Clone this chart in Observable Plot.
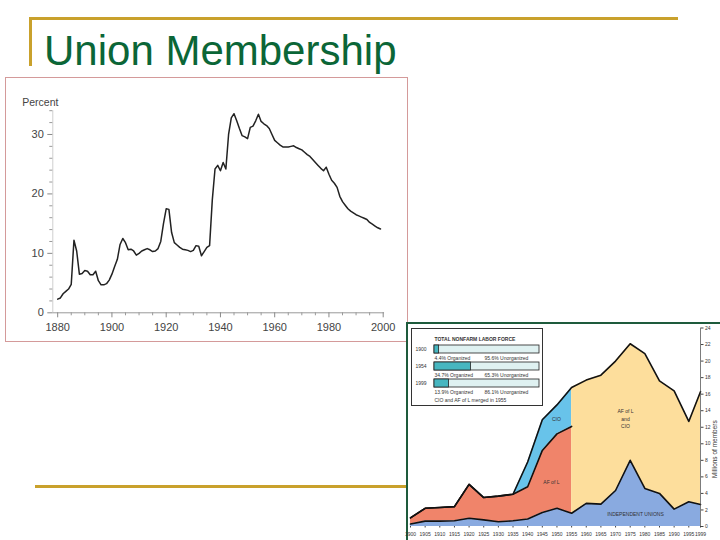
<!DOCTYPE html>
<html><head><meta charset="utf-8">
<script src="https://cdn.jsdelivr.net/npm/d3@7"></script>
<script src="https://cdn.jsdelivr.net/npm/@observablehq/plot@0.6"></script>
<style>
html,body{margin:0;padding:0;background:#fff;}
body{width:720px;height:540px;position:relative;overflow:hidden;font-family:"Liberation Sans",Arial,sans-serif;}
.abs{position:absolute;}
.abs svg{display:block;overflow:visible;}
</style></head><body>
<div class="abs" style="left:29px;top:17px;width:649px;height:3px;background:#c9a12c"></div>
<div class="abs" style="left:29px;top:17px;width:3px;height:49px;background:#c9a12c"></div>
<div class="abs" style="left:35px;top:485px;width:380px;height:3px;background:#c9a12c"></div>
<div class="abs" style="left:44px;top:30px;font-size:42px;line-height:42px;color:#0b6637;white-space:nowrap">Union Membership</div>
<div class="abs" id="c1" style="left:5px;top:77px;width:401px;height:263px;border:1px solid #d49a9a;background:#fff"></div>
<div class="abs" id="c2" style="left:406px;top:322px;width:312px;height:216px;border-top:2px solid #1e5b3c;border-left:2px solid #1e5b3c;background:#fff"></div>
<div class="abs" id="c3" style="left:411px;top:328px;width:130px;height:76px;border:1px solid #333;background:#fff"></div>
<script>
// ---------- Chart 1: union membership, percent of labor force ----------
const pctYears = [1880,1881,1882,1883,1884,1885,1886,1887,1888,1889,
1890,1891,1892,1893,1894,1895,1896,1897,1898,1899,
1900,1901,1902,1903,1904,1905,1906,1907,1908,1909,
1910,1911,1912,1913,1914,1915,1916,1917,1918,1919,
1920,1921,1922,1923,1924,1925,1926,1927,1928,1929,
1930,1931,1932,1933,1934,1935,1936,1937,1938,1939,
1940,1941,1942,1943,1944,1945,1946,1947,1948,1949,
1950,1951,1952,1953,1954,1955,1956,1957,1958,1959,
1960,1961,1962,1963,1964,1965,1966,1967,1968,1969,
1970,1971,1972,1973,1974,1975,1976,1977,1978,1979,
1980,1981,1982,1983,1984,1985,1986,1987,1988,1989,
1990,1991,1992,1993,1994,1995,1996,1997,1998,1999];
const pctValues = [2.3,2.5,3.2,3.6,4.0,4.8,12.2,10.4,6.5,6.6,
7.1,7.0,6.4,6.4,7.0,5.4,4.7,4.7,4.9,5.5,
6.5,7.8,9.0,11.5,12.5,11.8,10.6,10.7,10.4,9.7,
10.0,10.4,10.6,10.8,10.6,10.3,10.4,10.8,12.0,15.0,
17.5,17.4,13.5,11.8,11.4,11.0,10.7,10.6,10.5,10.3,
10.5,11.3,11.2,9.6,10.3,11.0,11.3,19.0,24.2,24.8,
23.9,25.3,24.2,30.0,32.8,33.5,32.3,31.0,29.8,29.6,
29.3,31.2,31.4,32.3,33.4,32.2,31.8,31.5,31.0,30.0,
29.0,28.6,28.2,27.9,27.9,27.9,28.0,28.1,27.8,27.6,
27.4,27.0,26.6,26.3,25.8,25.3,24.8,24.3,23.9,24.5,
23.3,22.3,21.8,21.1,19.6,18.7,18.1,17.5,17.1,16.8,
16.5,16.3,16.1,15.9,15.7,15.2,14.9,14.6,14.3,14.1];
const pctTicks = [0,10,20,30];
const pctMinorTicks = [2,4,6,8,12,14,16,18,22,24,26,28,32,34];
const yearTicks = [1880,1900,1920,1940,1960,1980,2000];
const yearMinorTicks = [1885,1890,1895,1905,1910,1915,1925,1930,1935,1945,1950,1955,1965,1970,1975,1985,1990,1995];

// ---------- Chart 2: millions of members by union type ----------
const unionYearsA = [1900,1905,1910,1915,1920,1925,1930,1935,1940,1945,1950,1955];
const independentA = [0.3,0.65,0.65,0.7,1.0,0.8,0.57,0.7,0.9,1.7,2.2,1.6];
const aflA = [0.75,1.55,1.65,1.7,4.1,2.7,3.1,3.2,3.9,7.5,9.0,10.5];
const cioA = [0,0,0,0,0,0,0,0,3.0,3.7,3.5,4.7];
const unionYearsB = [1955,1960,1965,1970,1975,1980,1985,1990,1995,1999];
const independentB = [1.6,2.8,2.7,4.35,8.0,4.6,4.0,2.1,3.0,2.65];
const aflcioB = [15.2,14.9,15.6,15.65,14.1,16.3,13.6,14.3,9.7,13.65];
const memberTicks = [0,2,4,6,8,10,12,14,16,18,20,22,24];
const unionTickYears = [1900,1905,1910,1915,1920,1925,1930,1935,1940,1945,1950,1955,1960,1965,1970,1975,1980,1985,1990,1995,1999];

// ---------- Inset: share of nonfarm labor force organized ----------
const insetYears = ["1900","1954","1999"];
const organizedPct = [4.4,34.7,13.9];

const font = "Liberation Sans, Arial, sans-serif";

const rows1 = pctYears.map((year, i) => ({year, pct: pctValues[i]}));
const c1 = Plot.plot({
  width: 401, height: 263,
  marginLeft: 46.3, marginRight: 24.3, marginTop: 32.2, marginBottom: 28.7,
  style: {background: "transparent", fontFamily: font, overflow: "visible"},
  x: {domain: [1878.2, 2000], label: null},
  y: {domain: [0, 34], label: null},
  marks: [
    Plot.ruleX([1878.2], {y1: 0, y2: 34, stroke: "#cfcfcf", strokeWidth: 1}),
    Plot.ruleY([0], {x1: 1878.2, x2: 2000.5, stroke: "#999"}),
    Plot.axisY({ticks: pctMinorTicks, tickSize: 3, text: null, stroke: "#999", label: null}),
    Plot.axisY({ticks: pctTicks, tickSize: 5, tickPadding: 4, fontSize: 11, fill: "#444", stroke: "#888", label: null, tickFormat: d => String(d)}),
    Plot.axisX({ticks: yearMinorTicks, tickSize: 3, text: null, stroke: "#999", label: null}),
    Plot.axisX({ticks: yearTicks, tickSize: 5, tickPadding: 5, fontSize: 11, fill: "#444", stroke: "#888", label: null, tickFormat: d => String(d)}),
    Plot.line(rows1, {x: "year", y: "pct", stroke: "#222", strokeWidth: 1.5}),
    Plot.text(["Percent"], {frameAnchor: "top-left", dx: -30.6, dy: -12.5, textAnchor: "start", fontSize: 10.5, fill: "#444"})
  ]
});
document.getElementById("c1").appendChild(c1);

const rowsA = unionYearsA.map((year, i) => ({
  year, ind: independentA[i], aflTop: independentA[i] + aflA[i], total: independentA[i] + aflA[i] + cioA[i]
}));
const rowsB = unionYearsB.map((year, i) => ({
  year, ind: independentB[i], total: independentB[i] + aflcioB[i]
}));
const allRows = rowsA.concat(rowsB.slice(1));
const cioRows = rowsA.filter((d, i) => unionYearsA[i] >= 1935);

const txt = {fontSize: 5, fill: "#333", fontFamily: font};
const c2 = Plot.plot({
  width: 312, height: 216,
  marginLeft: 2, marginRight: 20, marginTop: 3.5, marginBottom: 14,
  style: {background: "transparent", fontFamily: font, overflow: "visible"},
  x: {domain: [1900, 1999], label: null},
  y: {domain: [0, 24], label: null},
  marks: [
    Plot.areaY(allRows, {x: "year", y1: 0, y2: "ind", fill: "#89aae0"}),
    Plot.areaY(rowsA, {x: "year", y1: "ind", y2: "aflTop", fill: "#f0846a"}),
    Plot.areaY(cioRows, {x: "year", y1: "aflTop", y2: "total", fill: "#68c3ea"}),
    Plot.areaY(rowsB, {x: "year", y1: "ind", y2: "total", fill: "#fdde9c"}),
    Plot.line(allRows, {x: "year", y: "total", stroke: "#111", strokeWidth: 1.6}),
    Plot.line(rowsA, {x: "year", y: "aflTop", stroke: "#111", strokeWidth: 1.6}),
    Plot.line(allRows, {x: "year", y: "ind", stroke: "#111", strokeWidth: 1.6}),
    Plot.ruleX([1999], {y1: 0, y2: 24, stroke: "#444", strokeWidth: 0.7}),
    Plot.axisY({anchor: "right", ticks: memberTicks, tickSize: 2.5, tickPadding: 2, fontSize: 5, fill: "#333", stroke: "#444", label: null, tickFormat: d => String(d)}),
    Plot.axisX({ticks: unionTickYears, tickSize: 1.5, tickPadding: 4, fontSize: 5, fill: "#333", stroke: "#444", label: null, tickFormat: d => String(d)}),
    Plot.text(["Millions of members"], {frameAnchor: "right", rotate: -90, dx: 14, dy: -7, fontSize: 6.5, fill: "#333"}),
    Plot.text(["CIO"], {x: 1949.8, y: 12.9, ...txt}),
    Plot.text(["AF of L"], {x: 1948.1, y: 5.3, ...txt}),
    Plot.text(["AF of L\nand\nCIO"], {x: 1973.4, y: 13.1, lineHeight: 1.5, ...txt}),
    Plot.text(["INDEPENDENT UNIONS"], {x: 1976.8, y: 1.45, ...txt})
  ]
});
document.getElementById("c2").appendChild(c2);

const insetRows = insetYears.map((year, i) => ({year, org: organizedPct[i]}));
const c3 = Plot.plot({
  width: 130, height: 76,
  marginLeft: 22, marginRight: 3, marginTop: 0, marginBottom: 0,
  style: {background: "transparent", fontFamily: font, overflow: "visible"},
  x: {domain: [0, 100], axis: null},
  y: {type: "band", domain: insetYears, range: [5.75, 68.2], paddingInner: 0.53, paddingOuter: 0.5, axis: null},
  marks: [
    Plot.barX(insetRows, {y: "year", x1: 0, x2: 100, fill: "#dff1f1", stroke: "#222", strokeWidth: 0.8}),
    Plot.barX(insetRows, {y: "year", x1: 0, x2: "org", fill: "#47b6c0", stroke: "#222", strokeWidth: 0.8}),
    Plot.text(insetRows, {y: "year", text: "year", frameAnchor: "left", dx: -19, textAnchor: "start", ...txt}),
    Plot.text(insetRows, {x: 0, y: "year", dy: 8.5, text: d => `${d.org}% Organized`, textAnchor: "start", ...txt}),
    Plot.text(insetRows, {x: 47.6, y: "year", dy: 8.5, text: d => `${(100 - d.org).toFixed(1)}% Unorganized`, textAnchor: "start", ...txt}),
    Plot.text(["TOTAL NONFARM LABOR FORCE"], {frameAnchor: "top-left", dy: 8, textAnchor: "start", fontWeight: "bold", ...txt}),
    Plot.text(["CIO and AF of L merged in 1955"], {frameAnchor: "bottom-left", dy: -4, textAnchor: "start", ...txt})
  ]
});
document.getElementById("c3").appendChild(c3);
</script>
</body></html>
